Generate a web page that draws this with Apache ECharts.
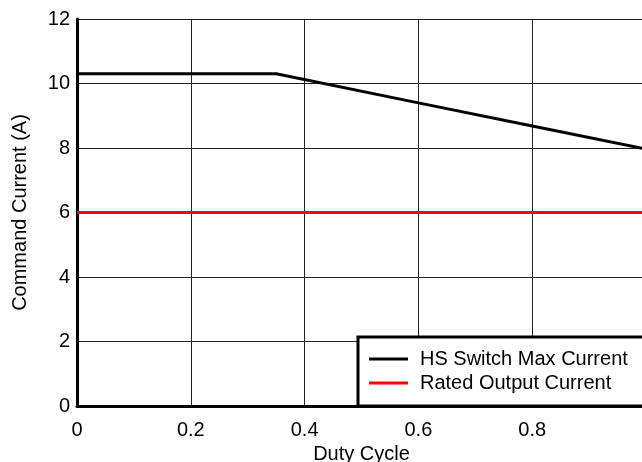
<!DOCTYPE html>
<html>
<head>
<meta charset="utf-8">
<script src="https://cdn.jsdelivr.net/npm/echarts@6/dist/echarts.min.js"></script>
<style>html,body{margin:0;padding:0;background:#fff;}#c{width:642px;height:462px;}</style>
</head>
<body>
<div id="c"></div>
<script>
var hsDuty = [0, 0.35, 0.6, 0.8, 1.0];
var hsCurrent = [10.3, 10.3, 9.4, 8.68, 7.97];
var ratedDuty = [0, 1.0];
var ratedCurrent = [6, 6];
var seriesNames = ['HS Switch Max Current', 'Rated Output Current'];

function pairs(xs, ys) { return xs.map(function (x, i) { return [x, ys[i]]; }); }

var font = 'Liberation Sans, Arial, sans-serif';
var fs = 20;
var chart = echarts.init(document.getElementById('c'), null, { renderer: 'canvas' });
chart.setOption({
  animation: false,
  backgroundColor: '#fff',
  grid: { left: 77, top: 19, right: -4, bottom: 56, show: false, containLabel: false, outerBoundsMode: 'none' },
  xAxis: {
    type: 'value', min: 0, max: 1, interval: 0.2,
    name: 'Duty Cycle', nameLocation: 'middle', nameGap: 35,
    nameTextStyle: { fontFamily: font, fontSize: fs, color: '#000' },
    axisLine: { show: true, onZero: false, lineStyle: { color: '#000', width: 3 } },
    axisTick: { show: false },
    axisLabel: { fontFamily: font, fontSize: fs, color: '#000', margin: 14, hideOverlap: false,
      showMaxLabel: true, showMinLabel: true,
      formatter: function (v) { return String(Math.round(v * 10) / 10); } },
    splitLine: { show: true, lineStyle: { color: '#222', width: 1 } }
  },
  yAxis: {
    type: 'value', min: 0, max: 12, interval: 2,
    name: 'Command Current (A)', nameLocation: 'middle', nameGap: 47,
    nameTextStyle: { fontFamily: font, fontSize: fs, color: '#000' },
    axisLine: { show: true, onZero: false, lineStyle: { color: '#000', width: 3 } },
    axisTick: { show: false },
    axisLabel: { fontFamily: font, fontSize: fs, color: '#000', margin: 7 },
    splitLine: { show: true, lineStyle: { color: '#222', width: 1 } }
  },
  legend: {
    orient: 'vertical', left: 358, top: 337,
    padding: [12, 30, 13, 11],
    itemGap: 4, itemWidth: 39, itemHeight: 3,
    backgroundColor: '#fff', borderColor: '#000', borderWidth: 3, borderRadius: 0,
    textStyle: { fontFamily: font, fontSize: fs, color: '#000', padding: [0, 0, 0, 7] },
    data: seriesNames.map(function (n) { return { name: n, icon: 'rect' }; })
  },
  series: [
    { name: seriesNames[0], type: 'line', data: pairs(hsDuty, hsCurrent), symbol: 'none',
      lineStyle: { color: '#000', width: 3 }, itemStyle: { color: '#000' }, z: 3 },
    { name: seriesNames[1], type: 'line', data: pairs(ratedDuty, ratedCurrent), symbol: 'none',
      lineStyle: { color: '#ff0000', width: 3 }, itemStyle: { color: '#ff0000' }, z: 3 }
  ]
});
</script>
</body>
</html>
